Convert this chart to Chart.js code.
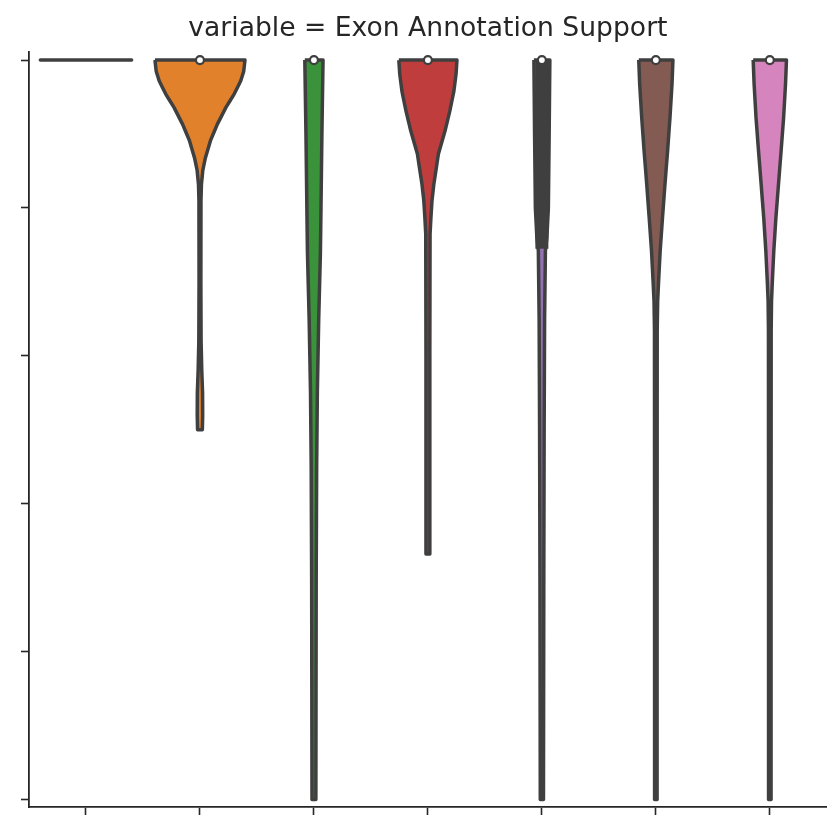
<!DOCTYPE html>
<html>
<head>
<meta charset="utf-8">
<script src="https://cdn.jsdelivr.net/npm/chart.js@4/dist/chart.umd.min.js"></script>
<style>
  html, body { margin: 0; padding: 0; background: #fff; }
</style>
</head>
<body>
<canvas id="violinChart" width="833" height="816"></canvas>
<script>
// tick labels are hidden in the original, categories only give positions
const categories = ['0', '1', '2', '3', '4', '5', '6'];
const colors = ['#3274a1', '#e1812c', '#3a923a', '#c03d3e', '#9372b2', '#845b53', '#d684bd'];
const yTicks = [0, 0.2, 0.4, 0.6, 0.8, 1.0];

// violin outlines: value levels (top -> bottom) and half widths in category units
const levels0 = [1.0];
const widths0 = [0.4];
const levels1 = [1.0, 0.985, 0.972, 0.954, 0.936, 0.913, 0.891, 0.868, 0.851, 0.832, 0.81, 0.70, 0.62, 0.58, 0.55, 0.52, 0.5];
const widths1 = [0.395, 0.384, 0.358, 0.300, 0.228, 0.152, 0.092, 0.048, 0.025, 0.013, 0.009, 0.008, 0.010, 0.016, 0.023, 0.024, 0.021];
const levels2 = [1.0, 0.95, 0.9, 0.8, 0.74, 0.65, 0.55, 0.45, 0.3, 0];
const widths2 = [0.080, 0.075, 0.070, 0.062, 0.057, 0.042, 0.030, 0.024, 0.020, 0.017];
const levels3 = [1.0, 0.981, 0.958, 0.931, 0.904, 0.873, 0.832, 0.81, 0.788, 0.765, 0.6, 0.45, 0.332];
const widths3 = [0.255, 0.247, 0.228, 0.192, 0.150, 0.092, 0.052, 0.036, 0.027, 0.019, 0.017, 0.017, 0.017];
const levels4 = [1.0, 0.9, 0.8, 0.76, 0.742, 0.65, 0.5, 0.3, 0];
const widths4 = [0.070, 0.064, 0.057, 0.044, 0.031, 0.024, 0.020, 0.017, 0.014];
const levels5 = [1.0, 0.968, 0.922, 0.877, 0.832, 0.786, 0.742, 0.697, 0.674, 0.634, 0.3, 0];
const widths5 = [0.150, 0.142, 0.124, 0.103, 0.080, 0.058, 0.038, 0.023, 0.016, 0.012, 0.011, 0.011];
const levels6 = [1.0, 0.968, 0.922, 0.877, 0.832, 0.786, 0.742, 0.697, 0.674, 0.634, 0.3, 0];
const widths6 = [0.146, 0.138, 0.121, 0.099, 0.076, 0.053, 0.035, 0.021, 0.015, 0.012, 0.011, 0.011];

// inner box: quartiles and median
const boxLow = [1, 1, 1, 1, 0.745, 1, 1];
const boxHigh = [1, 1, 1, 1, 1, 1, 1];
const medians = [null, 1, 1, 1, 1, 1, 1];

const allLevels = [levels0, levels1, levels2, levels3, levels4, levels5, levels6];
const allWidths = [widths0, widths1, widths2, widths3, widths4, widths5, widths6];

const gray = '#3f3f3f';
const dark = '#262626';

function outline(i, lv, wd) {
    const left = lv.map((v, k) => ({ x: i - wd[k], y: v }));
    const right = lv.map((v, k) => ({ x: i + wd[k], y: v })).reverse();
    return [...left, ...right, left[0]];
}

const datasets = [];

categories.forEach((c, i) => {
    const lv = allLevels[i];
    const wd = allWidths[i];
    if (lv.length === 1) {
        // every value equal: seaborn draws a flat line
        datasets.push({
            data: [{ x: i - wd[0], y: lv[0] }, { x: i + wd[0], y: lv[0] }],
            borderColor: gray,
            borderWidth: 3.6,
            borderCapStyle: 'round',
            fill: false,
            pointRadius: 0,
            order: 3
        });
        return;
    }
    datasets.push({
        data: outline(i, lv, wd),
        borderColor: gray,
        backgroundColor: colors[i],
        borderWidth: 3.5,
        borderJoinStyle: 'round',
        fill: 'shape',
        pointRadius: 0,
        // tiny tension keeps chart.js off its fast path, which breaks near-vertical lines
        tension: 0.0001,
        order: 3
    });
    if (boxLow[i] < boxHigh[i]) {
        datasets.push({
            data: [{ x: i, y: boxLow[i] }, { x: i, y: boxHigh[i] }],
            borderColor: gray,
            borderWidth: 13,
            borderCapStyle: 'butt',
            fill: false,
            pointRadius: 0,
            order: 2
        });
    }
});

datasets.push({
    data: categories.map((c, i) => medians[i] === null ? null : { x: i, y: medians[i] }).filter(p => p),
    showLine: false,
    pointRadius: 4,
    pointBorderWidth: 2.2,
    pointBackgroundColor: '#ffffff',
    pointBorderColor: gray,
    order: 1
});

const axisGrid = {
    display: true,
    drawOnChartArea: false,
    drawTicks: true,
    tickLength: 8,
    tickWidth: 1.6,
    tickColor: dark
};

new Chart(document.getElementById('violinChart').getContext('2d'), {
    type: 'line',
    data: { datasets: datasets },
    options: {
        responsive: false,
        animation: false,
        devicePixelRatio: 1,
        layout: { padding: { left: 21, right: 4, top: 0, bottom: 1 } },
        plugins: {
            legend: { display: false },
            tooltip: { enabled: false },
            title: {
                display: true,
                text: 'variable = Exon Annotation Support',
                fullSize: false,
                color: dark,
                font: { family: 'DejaVu Sans', size: 26.6, weight: 'normal' },
                padding: { top: 13, bottom: 7 }
            }
        },
        scales: {
            x: {
                type: 'linear',
                min: -0.5,
                max: 6.5,
                afterBuildTicks: scale => { scale.ticks = categories.map((c, i) => ({ value: i })); },
                ticks: { display: false },
                grid: axisGrid,
                border: { display: true, color: dark, width: 1.8 }
            },
            y: {
                type: 'linear',
                min: -0.01,
                max: 1.011,
                afterBuildTicks: scale => { scale.ticks = yTicks.map(v => ({ value: v })); },
                ticks: { display: false },
                grid: axisGrid,
                border: { display: true, color: dark, width: 1.8 }
            }
        }
    }
});
</script>
</body>
</html>
